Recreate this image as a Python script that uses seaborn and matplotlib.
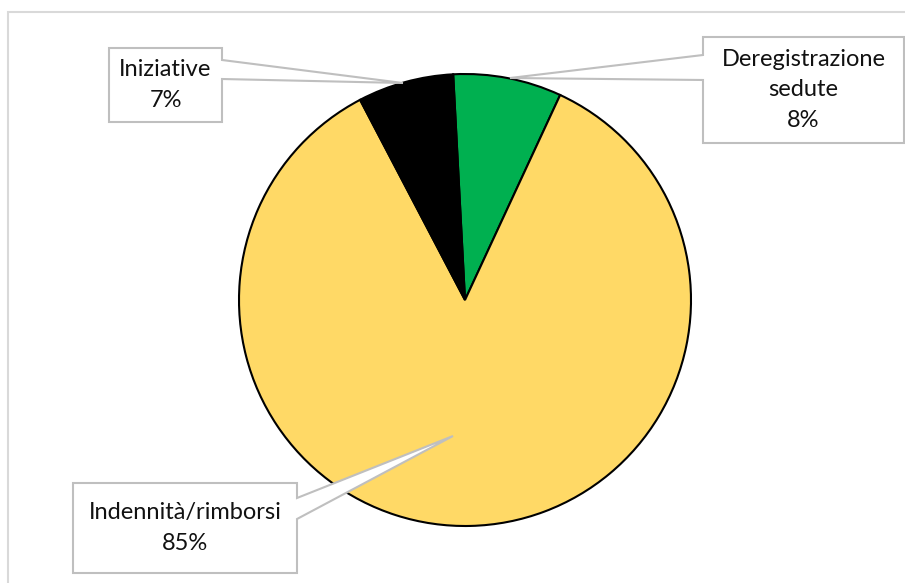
"""Pie chart with Excel-style callout labels."""

import matplotlib.pyplot as plt
import matplotlib.patches as mpatches
import seaborn as sns
import numpy as np


sns.set_theme(style='white')
plt.rcParams['font.family'] = ['Lato', 'DejaVu Sans']

# Data (clockwise from the top)
categories = ['Deregistrazione\nsedute', 'Indennità/rimborsi', 'Iniziative']
shares = [7.75, 85.4, 6.85]
colors = ['#00B050', '#FFD966', '#000000']

W, H = 905, 583
CX, CY, R = 465, 300, 226

# Callout layout in pixels (top-left origin): box (left, top, right, bottom),
# side where the pointer leaves the box, pointer base y-range and tip
callouts = [
    dict(box=(703, 37, 904, 143), side='left', base=(55, 80), tip=(510, 78)),
    dict(box=(73, 483, 297, 573), side='right', base=(498, 519), tip=(453, 436)),
    dict(box=(109, 48, 222, 122), side='right', base=(60, 79), tip=(403, 83)),
]


def fy(y):
    return H - y


def callout_polygon(box, side, base, tip):
    l, t, r, b = box
    if side == 'right':
        pts = [(l, t), (r, t), (r, base[0]), tip, (r, base[1]), (r, b), (l, b)]
    else:
        pts = [(l, t), (r, t), (r, b), (l, b), (l, base[1]), tip, (l, base[0])]
    return [(x, fy(y)) for x, y in pts]


fig = plt.figure(figsize=(W / 100, H / 100), dpi=100)
ax = fig.add_axes([0, 0, 1, 1])

ax.pie(shares, colors=colors, startangle=93, counterclock=False,
       radius=R, center=(CX, fy(CY)),
       wedgeprops=dict(edgecolor='black', linewidth=1.5))

# outer chart frame
ax.add_patch(mpatches.Rectangle((8, fy(12) - 700), 1000, 700, fill=False,
                                edgecolor='#D9D9D9', linewidth=1.5, zorder=0))

for name, share, c in zip(categories, shares, callouts):
    poly = mpatches.Polygon(callout_polygon(c['box'], c['side'], c['base'], c['tip']),
                            closed=True, facecolor='white', edgecolor='#BFBFBF',
                            linewidth=1.5, zorder=5)
    ax.add_patch(poly)
    l, t, r, b = c['box']
    ax.text((l + r) / 2, fy((t + b) / 2), f"{name}\n{round(share)}%",
            ha='center', va='center', fontsize=17, color='#111111',
            linespacing=1.55, zorder=6)

ax.set_xlim(0, W)
ax.set_ylim(0, H)
ax.axis('off')

plt.savefig('out.png', dpi=100)
